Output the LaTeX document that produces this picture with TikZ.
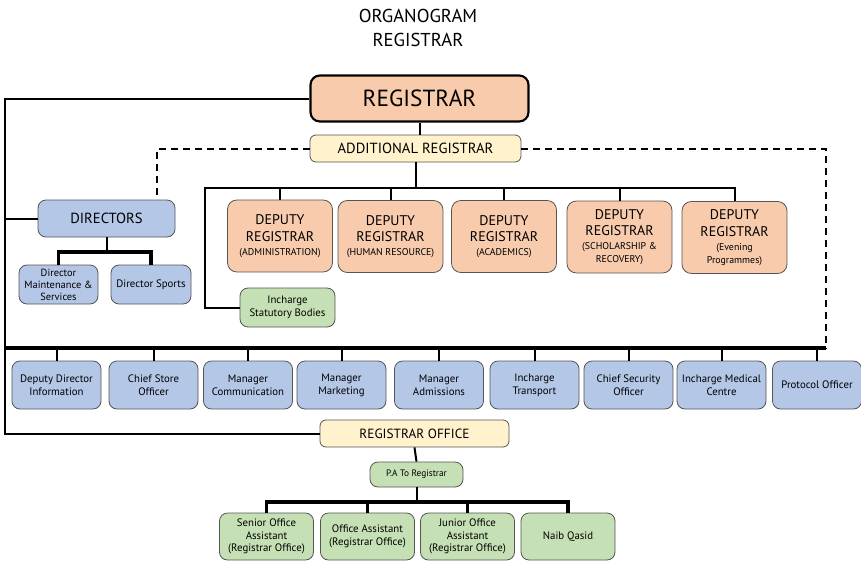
\documentclass[tikz,border=0pt]{standalone}
\usepackage{fontspec}
\setmainfont{PT Sans}
\usepackage{tikz}
\usetikzlibrary{positioning,calc}
\usepackage{xcolor}
\definecolor{peach}{HTML}{F8CBAD}
\definecolor{bluebox}{HTML}{B4C7E7}
\definecolor{greenbox}{HTML}{C5E0B4}
\definecolor{cream}{HTML}{FFF2CC}
\definecolor{edge}{HTML}{555555}
\newcommand{\subtxt}{\fontsize{7.4}{8.6}\selectfont}

\begin{document}
\begin{tikzpicture}[
    x=0.75pt, y=-0.75pt,
    box/.style={draw=edge, line width=0.6pt, rounded corners=4.5pt, align=center,
                inner sep=1pt},
    head/.style={box, draw=black, line width=1.6pt, rounded corners=7pt, fill=peach,
                 minimum width=163.5pt, minimum height=34.5pt, font=\fontsize{17.5}{20}\selectfont},
    office/.style={box, fill=cream, minimum height=20.25pt, font=\fontsize{11}{12}\selectfont},
    deputy/.style={box, fill=peach, rounded corners=7pt, minimum width=78.75pt,
                   minimum height=54pt, font=\fontsize{10.5}{12.5}\selectfont},
    unit/.style={box, fill=bluebox, rounded corners=6pt, minimum width=66.75pt,
                 minimum height=36pt, font=\fontsize{8.1}{9.6}\selectfont},
    staff/.style={box, fill=greenbox, rounded corners=6pt, minimum width=70.5pt,
                  minimum height=35.25pt, font=\fontsize{8.1}{9.6}\selectfont},
    link/.style={draw=black, line width=1.5pt},
    heavy/.style={draw=black, line width=2.3pt},
    dashline/.style={draw=black, line width=1.5pt, dash pattern=on 5pt off 4pt},
  ]
  \useasboundingbox (0,0) rectangle (861,561);

  \node[align=center, font=\fontsize{14}{17.6}\selectfont] (title) at (418,28)
    {ORGANOGRAM\\ REGISTRAR};

  \node[head] (reg) at (419.5,98.5) {REGISTRAR};
  \node[office, minimum width=158.25pt] (addreg) at (415.5,148.5) {ADDITIONAL REGISTRAR};

  % directors branch
  \node[box, fill=bluebox, rounded corners=6pt, minimum width=102.75pt, minimum height=27.75pt,
        font=\fontsize{11}{12}\selectfont] (dirs) at (106.5,218.5) {DIRECTORS};
  \node[unit, minimum width=59.25pt, minimum height=29.25pt, font=\fontsize{7.8}{9}\selectfont]
    (dmaint) at (58.5,284.5) {Director\\Maintenance \&\\Services};
  \node[unit, minimum width=60pt, minimum height=29.25pt] (dsports) at (151,284.5)
    {Director Sports};

  % deputy registrars
  \node[deputy] (dep1) at (280,236) {DEPUTY\\REGISTRAR\\[-2pt]{\subtxt (ADMINISTRATION)}};
  \node[deputy] (dep2) at (390.5,236.5) {DEPUTY\\REGISTRAR\\[-2pt]{\subtxt (HUMAN RESOURCE)}};
  \node[deputy] (dep3) at (504,236.5) {DEPUTY\\REGISTRAR\\[-2pt]{\subtxt (ACADEMICS)}};
  \node[deputy] (dep4) at (619.5,237) {DEPUTY\\REGISTRAR\\[-2pt]{\subtxt (SCHOLARSHIP \&}\\[-3pt]{\subtxt RECOVERY)}};
  \node[deputy] (dep5) at (734.5,237.5) {DEPUTY\\REGISTRAR\\[-2pt]{\subtxt (Evening}\\[-3pt]{\subtxt Programmes)}};
  \node[staff, minimum width=71.25pt, minimum height=29.25pt] (stat) at (287.5,307.5)
    {Incharge\\Statutory Bodies};

  % officers row
  \node[unit] (u1) at (56.5,385) {Deputy Director\\Information};
  \node[unit] (u2) at (153.5,385) {Chief Store\\Officer};
  \node[unit] (u3) at (248,385) {Manager\\Communication};
  \node[unit] (u4) at (341.5,385) {Manager\\Marketing};
  \node[unit] (u5) at (439,385) {Manager\\Admissions};
  \node[unit] (u6) at (534.5,385) {Incharge\\Transport};
  \node[unit] (u7) at (628.5,385) {Chief Security\\Officer};
  \node[unit] (u8) at (721.5,385) {Incharge Medical\\Centre};
  \node[unit] (u9) at (817,385) {Protocol Officer};

  % registrar office
  \node[office, minimum width=141.75pt, font=\fontsize{10}{12}\selectfont] (regoff) at (414.5,433.5)
    {REGISTRAR OFFICE};
  \node[staff, minimum width=69.75pt, minimum height=18.75pt, font=\fontsize{7}{8}\selectfont]
    (pa) at (416.5,474.5) {P.A To Registrar};
  \node[staff] (s1) at (266.5,536.5) {Senior Office\\Assistant\\(Registrar Office)};
  \node[staff] (s2) at (367.5,536.5) {Office Assistant\\(Registrar Office)};
  \node[staff] (s3) at (467.5,536.5) {Junior Office\\Assistant\\(Registrar Office)};
  \node[staff] (s4) at (568,536.5) {Naib Qasid};

  \coordinate (spine) at (5,0);
  \coordinate (busL) at (5,348);
  \coordinate (busR) at (826,348);
  \coordinate (dbus) at (205,188);
  \coordinate (dirbus) at (106.5,252);
  \coordinate (dashL) at (157,0);
  \coordinate (sbus) at (416.5,502);

  \draw[link] (reg.south) -- (reg.south |- addreg.north);
  \draw[link] (reg.west) -| (spine |- regoff.west) -- (regoff.west);
  \draw[link] (dirs.west) -- (dirs.west -| spine);
  \draw[heavy] (busL) -- (busR);
  \foreach \n in {u1,u2,u3,u4,u5,u6,u7,u8,u9}
    \draw[link] (\n.north) -- (\n.north |- busL);

  \draw[dashline] (addreg.west) -| ($(dirs.north -| dashL)+(0,-4)$);
  \draw[dashline] (addreg.east) -| (busR);

  \draw[link] (addreg.south) -- (addreg.south |- dbus);
  \draw[link] (dep5.north) |- (dbus) |- (stat.west);
  \foreach \n in {dep1,dep2,dep3,dep4}
    \draw[link] (\n.north) -- (\n.north |- dbus);

  \draw[link] (dirs.south) -- (dirbus);
  \draw[heavy] (dmaint.north) |- (dirbus) -| (dsports.north);

  \draw[link] (regoff.south) -- (pa.north);
  \draw[link] (pa.south) -- (sbus);
  \draw[heavy] (s1.north) |- (sbus) -| (s4.north);
  \foreach \n in {s2,s3}
    \draw[heavy] (\n.north) -- (\n.north |- sbus);

\end{tikzpicture}
\end{document}
